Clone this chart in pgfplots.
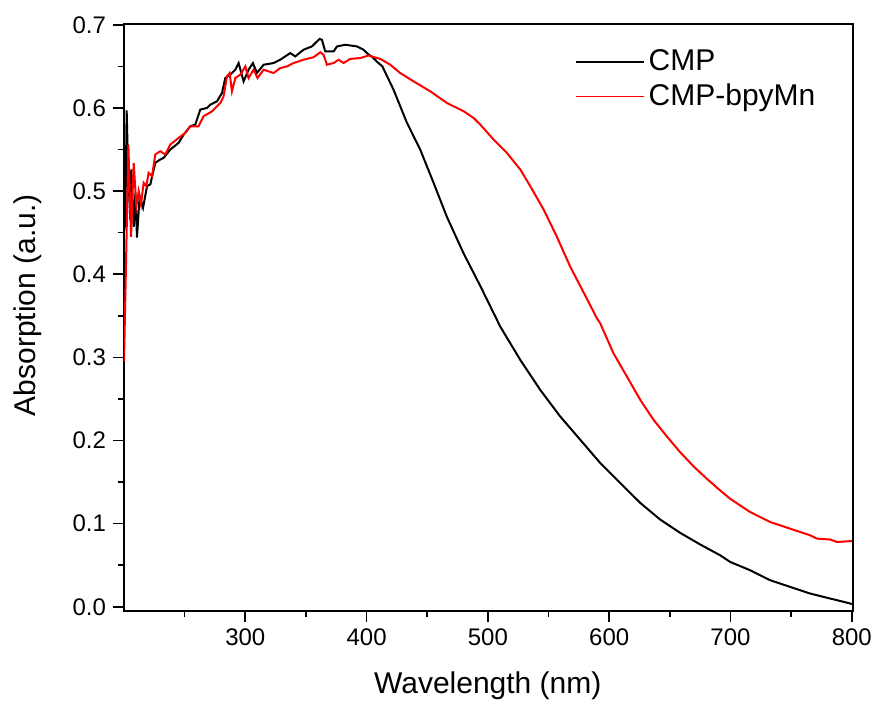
\documentclass[border=0pt]{standalone}
\usepackage{fontspec}
\setmainfont{Liberation Sans}
\usepackage{pgfplots}
\pgfplotsset{compat=1.18}
\begin{document}
\begin{tikzpicture}
\begin{axis}[
  scale only axis,
  width=364.5pt, height=293.5pt,
  xmin=200, xmax=801, ymin=-0.005, ymax=0.701,
  axis line style={line width=1pt},
  tick pos=left, tick align=outside,
  xtick={300,400,500,600,700,800},
  minor xtick={250,350,450,550,650,750},
  ytick={0,0.1,0.2,0.3,0.4,0.5,0.6,0.7},
  minor ytick={0.05,0.15,0.25,0.35,0.45,0.55,0.65},
  major tick length=5.5pt, minor tick length=3pt,
  every tick/.style={line width=0.8pt, black},
  yticklabel style={/pgf/number format/.cd, fixed, fixed zerofill, precision=1},
  /pgf/number format/assume math mode=true,
  tick label style={font=\fontsize{12}{14}\selectfont},
  xlabel={Wavelength (nm)}, ylabel={Absorption (a.u.)},
  label style={font=\fontsize{15}{18}\selectfont},
  x label style={at={(axis description cs:0.499,-0.128)}, anchor=center},
  y label style={at={(axis description cs:-0.132,0.521)}, anchor=center, rotate=0},
  legend style={at={(0.61,0.97)}, anchor=north west, draw=none, fill=none,
    font=\fontsize{15}{18}\selectfont, row sep=1pt},
  legend cell align=left,
  legend image code/.code={\draw[#1, line width=0.8pt] (0pt,0pt) -- (34pt,0pt);},
]
\coordinate (O) at (rel axis cs:0,0);
\addplot[black, line width=1pt] coordinates {
(200,0.47) (201.1,0.462) (202.2,0.597) (203.5,0.52) (205.2,0.465) (206,0.526) (208,0.457) (209.4,0.498) (210.7,0.444) (212.9,0.494) (215.7,0.480) (219,0.506) (221.7,0.508) (225.8,0.534) (229.9,0.538) (232.7,0.540) (238.2,0.550) (245,0.558) (249.2,0.568) (254.7,0.578) (258.8,0.580) (262.9,0.598) (268.4,0.600) (271.2,0.604) (276.7,0.608) (280.8,0.618) (283.5,0.636) (287.6,0.640) (291.8,0.646) (294.5,0.654) (298.6,0.632) (302.7,0.646) (306.3,0.654) (309.6,0.642) (315.1,0.652) (323.3,0.654) (328.8,0.658) (337.1,0.666) (341.2,0.662) (348,0.670) (354.9,0.674) (361.2,0.683) (363.2,0.682) (365.9,0.668) (372.8,0.668) (375.6,0.674) (382.4,0.676) (392.1,0.674) (397.5,0.670) (401,0.665) (405,0.661) (409,0.655) (413,0.650) (422.2,0.622) (433.3,0.582) (444.2,0.550) (455.2,0.510) (466.2,0.469) (480,0.425) (493.7,0.386) (510.2,0.337) (526.7,0.297) (543.1,0.261) (559.6,0.229) (576.1,0.201) (592.6,0.173) (609.1,0.149) (625.6,0.125) (642,0.105) (658.5,0.089) (675,0.075) (691.5,0.062) (699.7,0.054) (716.2,0.044) (732.7,0.032) (749.2,0.024) (765.7,0.016) (782.2,0.010) (798.7,0.004) (800,0.003)
};
\addlegendentry{CMP}
\addplot[red, line width=1pt] coordinates {
(200,0.295) (201.5,0.40) (203.6,0.556) (205.8,0.445) (208,0.534) (210.2,0.482) (212.1,0.500) (214,0.484) (216.2,0.510) (218.4,0.506) (220.3,0.522) (223.1,0.518) (225.8,0.544) (229.9,0.548) (234,0.544) (238.2,0.556) (245,0.564) (250.5,0.570) (254.7,0.578) (261.5,0.578) (265.6,0.590) (272.6,0.596) (279.4,0.606) (282.1,0.614) (284.9,0.638) (287.1,0.642) (289,0.620) (291.8,0.636) (295.9,0.640) (300,0.650) (302.7,0.636) (306.8,0.646) (310.1,0.636) (315.1,0.646) (323.3,0.642) (328.8,0.648) (334.4,0.650) (339.8,0.654) (348,0.658) (356.3,0.661) (361.8,0.667) (364.5,0.664) (367.3,0.652) (372.8,0.654) (376.9,0.658) (381,0.654) (386.5,0.659) (394.7,0.660) (401.6,0.663) (411.3,0.659) (419.5,0.652) (427.7,0.642) (438.7,0.632) (452.5,0.620) (466.2,0.606) (480,0.596) (488.2,0.588) (493.7,0.580) (504.7,0.562) (515.6,0.546) (526.7,0.526) (534.9,0.506) (545.9,0.478) (556.9,0.445) (567.9,0.409) (580,0.375) (589.9,0.347) (592.6,0.341) (603.5,0.305) (614.6,0.277) (625.6,0.249) (636.5,0.225) (647.5,0.205) (658.5,0.186) (669.5,0.169) (680.5,0.154) (691.5,0.140) (699.7,0.130) (716.2,0.114) (732.7,0.102) (749.2,0.094) (765.7,0.086) (771.2,0.082) (782.2,0.081) (787.7,0.078) (798.7,0.079) (800,0.079)
};
\addlegendentry{CMP-bpyMn}
\end{axis}
\pgfresetboundingbox
\path (O) ++(-62pt,-46.5pt) rectangle ++(438.5pt,352pt);
\end{tikzpicture}
\end{document}
